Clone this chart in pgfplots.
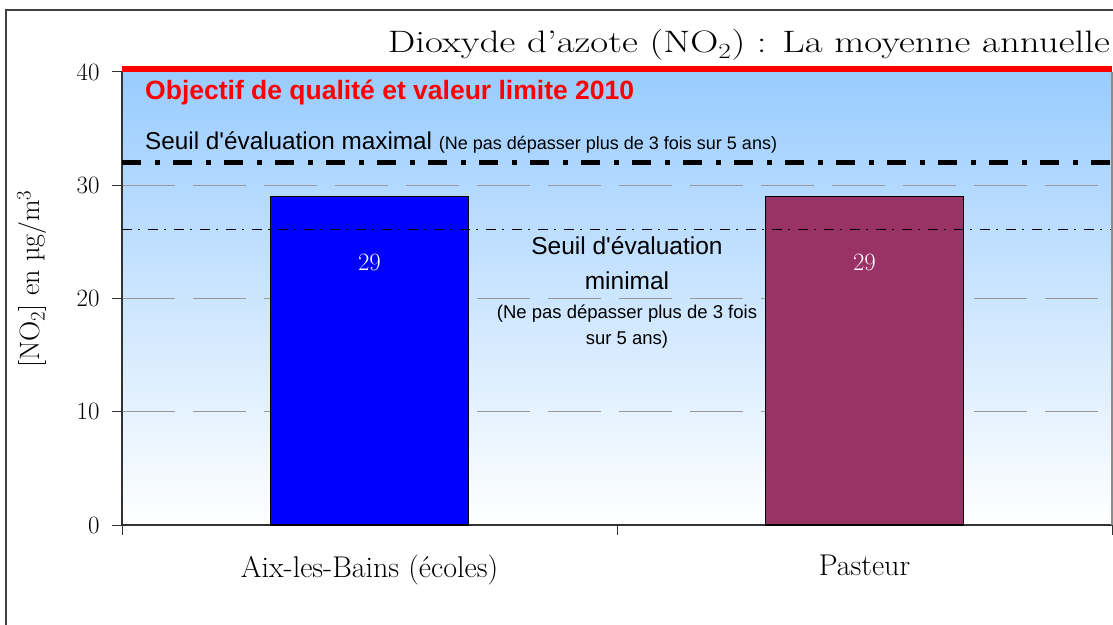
\documentclass[border=0pt]{standalone}
\usepackage{fontspec}
\newfontfamily\arial{Liberation Sans}
\usepackage{pgfplots}
\pgfplotsset{compat=1.18}

\definecolor{skyb}{RGB}{153,204,255}
\definecolor{barblue}{RGB}{0,0,255}
\definecolor{barplum}{RGB}{153,51,102}

\begin{document}
\begin{tikzpicture}[x=1pt,y=1pt]
\useasboundingbox (0,0) rectangle (1113,624);
\draw[black!75, line width=1.5pt] (6,614) rectangle (1125,-10);
\begin{axis}[
  at={(122pt,99pt)}, anchor=south west,
  width=990pt, height=453pt, scale only axis,
  xmin=-0.5, xmax=1.5, ymin=0, ymax=40,
  clip=false,
  axis x line*=bottom, axis y line*=left,
  axis line style={black!80, line width=1.2pt},
  axis background/.style={shade, top color=skyb, bottom color=white},
  ytick={0,10,20,30,40},
  ymajorgrids,
  major grid style={black!40, line width=1pt, dash pattern=on 53pt off 18pt},
  tick style={black!80, line width=1pt},
  tick align=outside, major tick length=10pt,
  yticklabel style={font=\fontsize{26}{26}\selectfont, xshift=-9pt},
  xtick={-0.5,0.5,1.5}, xticklabels={,,},
  extra x ticks={0,1},
  extra x tick labels={Aix-les-Bains (écoles), Pasteur},
  extra x tick style={major tick length=0pt,
    xticklabel style={font=\fontsize{30}{30}\selectfont, yshift=-26pt}},
]
\addplot[ybar, bar width=198pt, fill=barblue, draw=black, line width=1.8pt,
  nodes near coords, nodes near coords align={below},
  every node near coord/.append style={text=white, yshift=-54pt,
    font=\fontsize{28}{28}\selectfont}]
  coordinates {(0,29)};
\addplot[ybar, bar width=198pt, fill=barplum, draw=black, line width=1.8pt,
  nodes near coords, nodes near coords align={below},
  every node near coord/.append style={text=white, yshift=-54pt,
    font=\fontsize{28}{28}\selectfont}]
  coordinates {(1,29)};
% seuils
\addplot[black, line width=1.5pt, dash pattern=on 10pt off 6pt on 2pt off 8pt]
  coordinates {(-0.5,26.1) (1.5,26.1)};
\addplot[black, line width=4.5pt, dash pattern=on 19pt off 14pt on 5pt off 13pt]
  coordinates {(-0.5,32) (1.5,32)};
\addplot[red, line width=6pt, yshift=3pt]
  coordinates {(-0.5,40) (1.5,40)};
\draw[black!45, line width=1.5pt] (rel axis cs:1,0) -- (rel axis cs:1,1);
\end{axis}
% titre
\node[anchor=base east, inner sep=0, font=\fontsize{31}{31}\selectfont]
  at (1110,571) {\scalebox{1.255}[1]{Dioxyde d'azote (NO\textsubscript{2}) : La moyenne annuelle}};
\node[rotate=90, inner sep=0, font=\fontsize{28}{28}\selectfont]
  at (32,345) {[NO$_2$] en µg/m$^3$};
% textes
\node[anchor=base west, inner sep=0, text=red, font=\arial\bfseries\fontsize{26.5}{26.5}\selectfont]
  at (145,524) {Objectif de qualité et valeur limite 2010};
\node[anchor=base west, inner sep=0, font=\arial\fontsize{24.3}{24.3}\selectfont]
  at (145,474) {Seuil d'évaluation maximal {\fontsize{18}{18}\selectfont(Ne pas dépasser plus de 3 fois sur 5 ans)}};
\node[anchor=base, inner sep=0, font=\arial\fontsize{24.5}{24.5}\selectfont]
  at (627,369) {Seuil d'évaluation};
\node[anchor=base, inner sep=0, font=\arial\fontsize{24.5}{24.5}\selectfont]
  at (627,334) {minimal};
\node[anchor=base, inner sep=0, font=\arial\fontsize{18.5}{18.5}\selectfont]
  at (627,305) {(Ne pas dépasser plus de 3 fois};
\node[anchor=base, inner sep=0, font=\arial\fontsize{18.5}{18.5}\selectfont]
  at (627,279) {sur 5 ans)};
\end{tikzpicture}
\end{document}
